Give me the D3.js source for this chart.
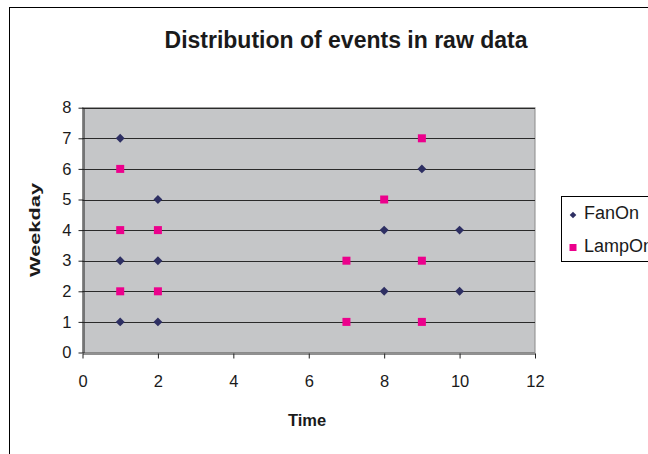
<!DOCTYPE html>
<html>
<head>
<meta charset="utf-8">
<script src="https://cdnjs.cloudflare.com/ajax/libs/d3/7.8.5/d3.min.js"></script>
<style>
  html, body { margin: 0; padding: 0; background: #fff; }
  svg { display: block; font-family: "Liberation Sans", Arial, sans-serif; }
</style>
</head>
<body>
<svg id="chart" width="648" height="454"></svg>
<script>
// Event times (hour) and weekdays for each series
const fanTime    = [1, 1, 1, 2, 2, 2, 8, 8, 9, 10, 10];
const fanDay     = [7, 3, 1, 5, 3, 1, 4, 2, 6, 4, 2];
const lampTime   = [1, 1, 1, 2, 2, 7, 7, 8, 9, 9, 9];
const lampDay    = [6, 4, 2, 4, 2, 3, 1, 5, 7, 3, 1];
const xTicks     = [0, 2, 4, 6, 8, 10, 12];
const yTicks     = [0, 1, 2, 3, 4, 5, 6, 7, 8];
const seriesNames = ["FanOn", "LampOn"];

const FONT = "'Liberation Sans', Arial, sans-serif";
const svg = d3.select("#chart");
const plot = { left: 82.5, right: 535, top: 107.7, bottom: 352.5 };

const x = d3.scaleLinear().domain([0, 12]).range([plot.left, plot.right]);
const y = d3.scaleLinear().domain([0, 8]).range([plot.bottom, plot.top]);

// outer chart frame
svg.append("rect")
  .attr("x", 9.5).attr("y", 7.5).attr("width", 700).attr("height", 500)
  .attr("fill", "#fff").attr("stroke", "#000").attr("stroke-width", 1);

// title
svg.append("text")
  .attr("x", 346).attr("y", 48)
  .attr("text-anchor", "middle")
  .attr("font-family", FONT)
  .attr("font-size", 23).attr("font-weight", "bold").attr("fill", "#1a1a1a")
  .text("Distribution of events in raw data");

// plot background
svg.append("rect")
  .attr("x", plot.left).attr("y", plot.top)
  .attr("width", plot.right - plot.left).attr("height", plot.bottom - plot.top)
  .attr("fill", "#c5c6c8").attr("stroke", "#8a8a8a").attr("stroke-width", 1);

// horizontal gridlines
svg.append("g").selectAll("line")
  .data(yTicks.slice(1))
  .join("line")
  .attr("x1", plot.left).attr("x2", plot.right)
  .attr("y1", d => Math.round(y(d)) + 0.5).attr("y2", d => Math.round(y(d)) + 0.5)
  .attr("stroke", "#2a2a2a").attr("stroke-width", 1);

// x axis
const xAxis = svg.append("g")
  .attr("transform", `translate(0,${Math.round(plot.bottom) + 0.5})`)
  .call(d3.axisBottom(x).tickValues(xTicks).tickSize(5).tickSizeOuter(0).tickPadding(17));
xAxis.select(".domain").attr("stroke", "#222");
xAxis.selectAll(".tick line").attr("stroke", "#222");
xAxis.selectAll(".tick text")
  .attr("font-size", 16.5).attr("fill", "#1a1a1a")
  .attr("font-family", FONT);

// y axis
const yAxis = svg.append("g")
  .attr("transform", `translate(${Math.round(plot.left) + 0.5},0)`)
  .call(d3.axisLeft(y).tickValues(yTicks).tickSize(5).tickSizeOuter(0).tickPadding(7));
yAxis.select(".domain").attr("stroke", "#222");
yAxis.selectAll(".tick line").attr("stroke", "#222");
yAxis.selectAll(".tick text")
  .attr("font-size", 16.5).attr("fill", "#1a1a1a")
  .attr("font-family", FONT);

// axis titles
svg.append("text")
  .attr("x", 307).attr("y", 426)
  .attr("text-anchor", "middle")
  .attr("font-family", FONT)
  .attr("font-size", 16.5).attr("font-weight", "bold").attr("fill", "#1a1a1a")
  .text("Time");

svg.append("text")
  .attr("transform", "translate(40,230) rotate(-90)")
  .attr("text-anchor", "middle")
  .attr("font-family", FONT)
  .attr("font-size", 15).attr("font-weight", "bold").attr("fill", "#1a1a1a")
  .attr("textLength", 94).attr("lengthAdjust", "spacingAndGlyphs")
  .text("Weekday");

const fanColor = "#2e2f63";
const lampColor = "#ec008c";
const diamond = d3.symbol().type(d3.symbolDiamond2).size(50);

// FanOn markers (diamonds)
svg.append("g").selectAll("path")
  .data(fanTime.map((t, i) => [t, fanDay[i]]))
  .join("path")
  .attr("d", diamond)
  .attr("transform", d => `translate(${x(d[0])},${y(d[1])})`)
  .attr("fill", fanColor);

// LampOn markers (squares)
svg.append("g").selectAll("rect")
  .data(lampTime.map((t, i) => [t, lampDay[i]]))
  .join("rect")
  .attr("x", d => x(d[0]) - 4).attr("y", d => y(d[1]) - 4)
  .attr("width", 8).attr("height", 8)
  .attr("fill", lampColor);

// legend
const legend = svg.append("g");
legend.append("rect")
  .attr("x", 561.5).attr("y", 196.5).attr("width", 120).attr("height", 65)
  .attr("fill", "#fff").attr("stroke", "#000").attr("stroke-width", 1);
legend.append("path")
  .attr("d", d3.symbol().type(d3.symbolDiamond2).size(28))
  .attr("transform", "translate(573,215)")
  .attr("fill", fanColor);
legend.append("rect")
  .attr("x", 569.5).attr("y", 244).attr("width", 7).attr("height", 7)
  .attr("fill", lampColor);
legend.selectAll("text")
  .data(seriesNames)
  .join("text")
  .attr("x", 584).attr("y", (d, i) => 219 + i * 33)
  .attr("font-family", FONT)
  .attr("font-size", 18).attr("fill", "#1a1a1a")
  .text(d => d);
</script>
</body>
</html>
